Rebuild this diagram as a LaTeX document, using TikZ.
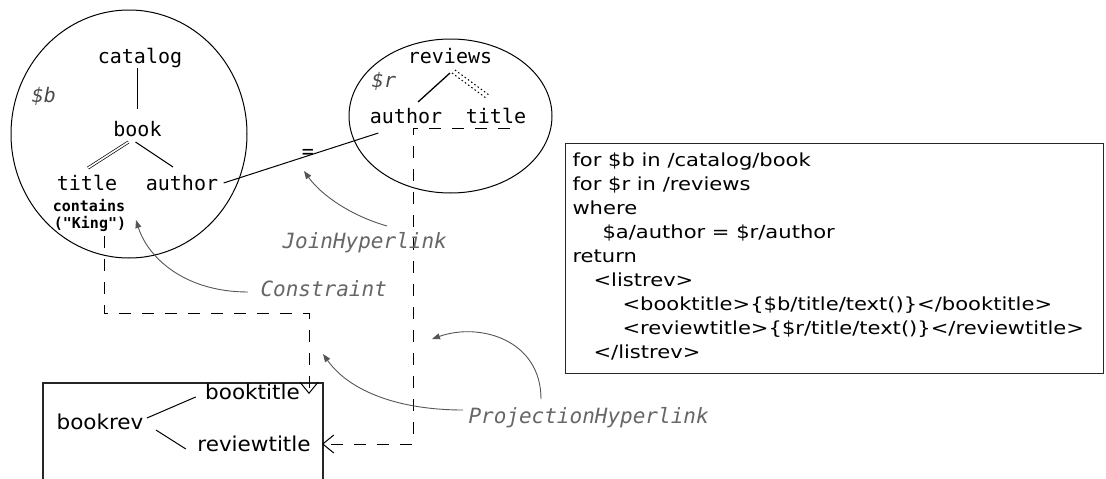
\documentclass[tikz,border=0pt]{standalone}
\usepackage{fontspec}
\usetikzlibrary{shapes.geometric,arrows.meta}
\newfontfamily\monof{DejaVu Sans Mono}
\newfontfamily\codef[FakeStretch=1.17]{DejaVu Sans}
\newfontfamily\labf[FakeStretch=1.05]{DejaVu Sans}
\definecolor{lblgray}{HTML}{666666}
\definecolor{arrgray}{HTML}{555555}
\definecolor{vargray}{HTML}{4A4A4A}
\begin{document}
\begin{tikzpicture}[x=1pt,y=-1pt,line width=1pt,
  tree/.style={font=\monof\fontsize{20}{24}\selectfont,inner sep=0pt,anchor=base},
  cond/.style={font=\monof\bfseries\fontsize{15}{17}\selectfont,inner sep=0pt,anchor=base},
  var/.style={font=\monof\itshape\fontsize{20}{24}\selectfont,text=vargray,inner sep=0pt,anchor=base},
  glabel/.style={font=\monof\itshape\fontsize{21}{25}\selectfont,text=lblgray,inner sep=0pt,anchor=base west},
  code/.style={font=\codef\fontsize{18}{22}\selectfont,inner sep=0pt,anchor=base west},
  outl/.style={font=\labf\fontsize{20.5}{24}\selectfont,inner sep=0pt,anchor=base},
  scope/.style={draw,ellipse,inner sep=0pt},
  garrow/.style={draw=arrgray,line width=0.9pt,-{Triangle[length=8pt,width=6pt]}},
  dlink/.style={dash pattern=on 12pt off 11pt,line width=1pt,-{Straight Barb[length=11pt,width=18pt,line width=1pt]}},
  dotl/.style={dash pattern=on 1.5pt off 2.5pt,line width=1pt}]
\useasboundingbox (0,0) rectangle (1106,479);
% scopes
\node[scope,minimum width=236pt,minimum height=248pt] (bscope) at (129,134) {};
\node[scope,minimum width=203pt,minimum height=154pt] (rscope) at (450.5,116) {};
% $b tree
\node[var] (bvar) at (44,102) {\$b};
\node[tree] (catalog) at (140,63) {catalog};
\node[tree] (book) at (137.5,136) {book};
\node[tree] (btitle) at (87,190) {title};
\node[tree] (bauthor) at (182,190) {author};
\node[cond] (contains) at (89,211) {contains};
\node[cond] (king) at (90,228) {("King")};
\draw[shorten >=11pt] (catalog.south -| book.north) -- (book.north);
\draw[double,double distance=1.6pt,line width=0.7pt] ([shift={(-9,6)}]book.base) -- ([shift={(1,-22)}]btitle.base);
\draw ([shift={(-2,6)}]book.base) -- ([shift={(-9,-23)}]bauthor.base);
% $r tree
\node[var] (rvar) at (384,87) {\$r};
\node[tree] (reviews) at (450,63) {reviews};
\node[tree] (rauthor) at (406,123) {author};
\node[tree] (rtitle) at (496,123) {title};
\draw[line width=1.3pt] ([shift={(0,10)}]reviews.base) -- ([shift={(12,-21)}]rauthor.base);
\draw[dotl] ([shift={(2,10)}]reviews.base) -- ([shift={(-10,-25)}]rtitle.base);
\draw[dotl] ([shift={(5,7)}]reviews.base) -- ([shift={(-7,-28)}]rtitle.base);
% join
\draw ([shift={(5,-7)}]bauthor.base east) -- node[tree,pos=0.545,yshift=-3pt] (eq) {=} ([shift={(9,10)}]rauthor.base west);
% output box
\draw[line width=1.2pt,draw=black!85] (43,484) -- (43,383) -- (323,383) -- (323,484);
\node[outl] (bookrev) at (100,429) {bookrev};
\node[outl] (booktitle) at (252.5,399) {booktitle};
\node[outl] (reviewtitle) at (254,451) {reviewtitle};
\draw ([shift={(3,-11)}]bookrev.base east) -- ([shift={(-9,-2)}]booktitle.base west);
\draw ([shift={(12,1)}]bookrev.base east) -- ([shift={(-11,-2)}]reviewtitle.base west);
% projection links
\coordinate (kstart) at ([shift={(14,8)}]king.base);
\coordinate (lowy) at (0,313);
\coordinate (bttip) at (309,394);
\draw[dlink] (kstart) -- (kstart |- lowy) -- (bttip |- lowy) -- (bttip);
\coordinate (rstart) at ([shift={(-17,5)}]rtitle.base east);
\coordinate (colx) at (413,0);
\coordinate (rttip) at (322,444);
\draw[dlink] (rstart) -- (rstart -| colx) -- (colx |- rttip) -- (rttip);
% gray labels and arrows
\node[glabel] (joinlbl) at (282,248) {JoinHyperlink};
\node[glabel] (conslbl) at (260,296) {Constraint};
\node[glabel] (projlbl) at (468,423) {ProjectionHyperlink};
\coordinate (j0) at (387,226); \coordinate (j1) at (304,171);
\coordinate (c0) at (248,292); \coordinate (c1) at (136,220);
\coordinate (p0) at (463,410); \coordinate (p1) at (323,354);
\coordinate (q0) at (541,399); \coordinate (q1) at (432,339);
\draw[garrow] (j0) .. controls (352,216) and (322,196) .. (j1);
\draw[garrow] (c0) .. controls (185,292) and (148,258) .. (c1);
\draw[garrow] (p0) .. controls (400,410) and (350,392) .. (p1);
\draw[garrow] (q0) .. controls (541,340) and (480,322) .. (q1);
% query
\node[draw,line width=1.2pt,draw=black!85,minimum width=538pt,minimum height=230pt,anchor=north west,inner sep=0pt] (codebox) at (565,143) {};
\node[code] (l1) at (572,166) {for \$b in /catalog/book};
\node[code] (l2) at (572,190) {for \$r in /reviews};
\node[code] (l3) at (572,214) {where};
\node[code] (l4) at (602,238) {\$a/author = \$r/author};
\node[code] (l5) at (572,262) {return};
\node[code] (l6) at (593,286) {<listrev>};
\node[code] (l7) at (622,310) {<booktitle>\{\$b/title/text()\}</booktitle>};
\node[code] (l8) at (622,334) {<reviewtitle>\{\$r/title/text()\}</reviewtitle>};
\node[code] (l9) at (593,358) {</listrev>};
\end{tikzpicture}
\end{document}
